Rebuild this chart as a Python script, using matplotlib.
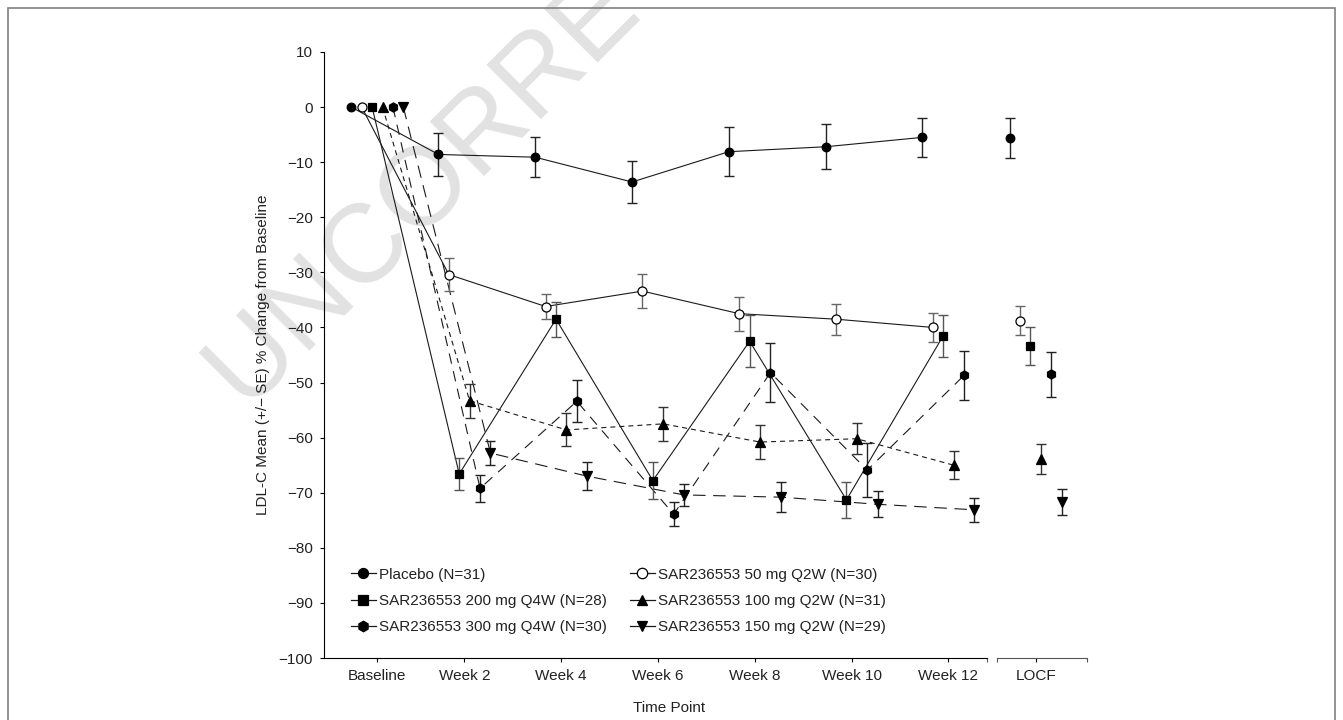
import matplotlib
matplotlib.use("Agg")
import matplotlib.pyplot as plt
from matplotlib.lines import Line2D
from matplotlib.patches import Rectangle

plt.rcParams["font.family"] = ["Liberation Sans", "DejaVu Sans"]
plt.rcParams["lines.scale_dashes"] = False

# Time points on the x axis (Baseline and LOCF sit a little closer to their neighbours)
time_points = ["Baseline", "Week 2", "Week 4", "Week 6", "Week 8", "Week 10", "Week 12", "LOCF"]
tick_pos = [0.2, 2, 4, 6, 8, 10, 12, 13.8]

# Mean % change from baseline and SE
placebo_mean = [0, -8.6, -9.1, -13.6, -8.1, -7.2, -5.5, -5.6]
placebo_se = [0, 3.9, 3.6, 3.75, 4.4, 4.05, 3.6, 3.6]

q2w50_mean = [0, -30.4, -36.2, -33.4, -37.5, -38.5, -40.0, -38.8]
q2w50_se = [0, 3.0, 2.25, 3.1, 3.1, 2.8, 2.6, 2.65]

q4w200_mean = [0, -66.6, -38.5, -67.8, -42.5, -71.3, -41.5, -43.4]
q4w200_se = [0, 2.9, 3.15, 3.4, 4.75, 3.3, 3.8, 3.45]

q2w100_mean = [0, -53.3, -58.6, -57.5, -60.8, -60.2, -65.0, -63.9]
q2w100_se = [0, 3.05, 3.0, 3.05, 3.05, 2.8, 2.55, 2.75]

q4w300_mean = [0, -69.2, -53.4, -73.9, -48.2, -65.9, -48.7, -48.5]
q4w300_se = [0, 2.4, 3.8, 2.2, 5.3, 4.85, 4.5, 4.05]

q2w150_mean = [0, -62.8, -67.0, -70.4, -70.8, -72.1, -73.1, -71.7]
q2w150_se = [0, 2.2, 2.5, 2.0, 2.75, 2.35, 2.15, 2.35]

labels = ["Placebo (N=31)", "SAR236553 50 mg Q2W (N=30)", "SAR236553 200 mg Q4W (N=28)",
          "SAR236553 100 mg Q2W (N=31)", "SAR236553 300 mg Q4W (N=30)", "SAR236553 150 mg Q2W (N=29)"]
means = [placebo_mean, q2w50_mean, q4w200_mean, q2w100_mean, q4w300_mean, q2w150_mean]
ses = [placebo_se, q2w50_se, q4w200_se, q2w100_se, q4w300_se, q2w150_se]

# style per group
markers = ["o", "o", "s", "^", "h", "v"]
faces = ["black", "white", "black", "black", "black", "black"]
sizes = [6.2, 6.5, 5.6, 6.6, 6.6, 6.8]
styles = ["-", "-", "-", (0, (3.6, 2.9)), (0, (7.5, 5.5)), (0, (9, 5.5))]
ecolors = ["#222222", "#666666", "#555555", "#333333", "#222222", "#222222"]
offsets = [-2.5, -1.5, -0.5, 0.5, 1.5, 2.5]
step = 0.215

fig = plt.figure(figsize=(13.43, 7.2), dpi=100)
ax = fig.add_axes([0.2413, 0.0861, 0.568, 0.8417])
ax.patch.set_alpha(0)

# watermark, behind everything else
fig.text(245 / 1343, 1 - 407 / 720, "UNCORRECTED", fontsize=80, color="#e2e2e2",
         rotation=45, rotation_mode="anchor", ha="left", va="baseline", zorder=-1)

for i in range(6):
    x = [p + offsets[i] * step for p in tick_pos]
    ax.plot(x[:7], means[i][:7], linestyle=styles[i], color="#1a1a1a", lw=0.8, zorder=2)
    ax.errorbar(x[1:], means[i][1:], yerr=ses[i][1:], fmt="none", ecolor=ecolors[i],
                elinewidth=1.0, capsize=3.6, capthick=1.0, zorder=3)
    ax.plot(x, means[i], linestyle="none", marker=markers[i], ms=sizes[i],
            mfc=faces[i], mec="black", mew=0.9, zorder=4)

ax.set_xlim(-0.9, 14.86)
ax.set_ylim(-100, 10)
ax.set_yticks(range(-100, 11, 10))
ax.set_xticks(tick_pos)
ax.set_xticklabels(time_points)
ax.set_xticks([12.8, 13.0, 14.86], minor=True)
ax.tick_params(axis="both", which="major", labelsize=11, labelcolor="#222222",
               length=3, width=0.8, direction="out")
ax.tick_params(axis="y", pad=5)
ax.tick_params(axis="x", pad=5)
ax.tick_params(axis="x", which="minor", length=3, width=0.8, color="#555555")

for s in ["top", "right"]:
    ax.spines[s].set_visible(False)
ax.spines["left"].set_linewidth(0.8)
ax.spines["bottom"].set_linewidth(0.8)
ax.spines["bottom"].set_bounds(-0.9, 12.8)
ax.plot([13.0, 14.86], [-100, -100], color="#555555", lw=0.8, clip_on=False, zorder=5)

ax.set_ylabel("LDL-C Mean (+/\u2212 SE) % Change from Baseline", fontsize=11,
              color="#222222", labelpad=6)
ax.set_xlabel("Time Point", fontsize=11, color="#222222", labelpad=13)
ax.xaxis.label.set_x(0.452)

# legend, filled column by column
handles = []
for i in range(6):
    handles.append(Line2D([], [], color="#1a1a1a", lw=0.9, marker=markers[i], ms=sizes[i] + 1,
                          mfc=faces[i], mec="black", mew=0.9))
order = [0, 2, 4, 1, 3, 5]
ax.legend([handles[k] for k in order], [labels[k] for k in order], ncol=2,
          loc="center left", bbox_to_anchor=(0.0354, 0.094), frameon=False, fontsize=11,
          handlelength=1.6, handletextpad=0.2, columnspacing=1.55, labelspacing=0.8,
          borderpad=0, borderaxespad=0, labelcolor="#222222")

# figure frame (open at the bottom)
fig.patches.append(Rectangle((8 / 1343, -0.02), (1335 - 8) / 1343, 1 - 8 / 720 + 0.02,
                             transform=fig.transFigure, fill=False, ec="#808080", lw=1.2))

fig.savefig("out.png", dpi=100)
